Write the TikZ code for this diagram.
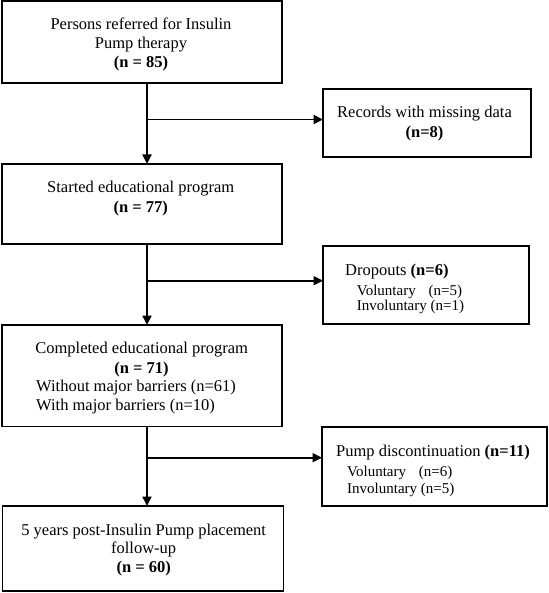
\documentclass[tikz,border=0pt]{standalone}
\usepackage{fontspec}
\setmainfont{Liberation Serif}
\usetikzlibrary{arrows.meta}
\tikzset{
  box/.style={draw=black, line width=1.5pt, inner sep=0pt, outer sep=0pt, fill=white},
  arr/.style={line width=1.9pt, -{Triangle[length=9.5pt,width=9pt]}},
  txt/.style={inner sep=0pt, font=\fontsize{16.5}{19.5}\selectfont},
  sub/.style={inner sep=0pt, font=\fontsize{15}{18}\selectfont},
}
\begin{document}
\begin{tikzpicture}[x=1pt,y=-1pt]
\useasboundingbox (0,0) rectangle (548,593);
% boxes
\node[box, minimum width=280pt, minimum height=82pt] (b1) at (142,42) {};
\node[box, minimum width=280pt, minimum height=80pt] (b2) at (142,204) {};
\node[box, minimum width=280pt, minimum height=101.5pt] (b3) at (142,375.75) {};
\node[box, minimum width=281pt, minimum height=85pt] (b5) at (143,548.5) {};
\node[box, minimum width=208pt, minimum height=68pt] (rec) at (427,123) {};
\node[box, minimum width=206pt, minimum height=78pt] (drop) at (426,285) {};
\node[box, minimum width=225pt, minimum height=79pt] (pump) at (434.5,466.5) {};
% texts
\node[txt, anchor=base] (t1a) at (141,29.3) {Persons referred for Insulin};
\node[txt, anchor=base] (t1b) at (141,48.3) {Pump therapy};
\node[txt, anchor=base] (t1c) at (141,67.7) {\textbf{(n = 85)}};
\node[txt, anchor=base] (t2a) at (140.7,192.3) {Started educational program};
\node[txt, anchor=base] (t2b) at (140.7,212.5) {\textbf{(n = 77)}};
\node[txt, anchor=base] (t3a) at (141.7,353.3) {Completed educational program};
\node[txt, anchor=base] (t3b) at (141.5,373.3) {\textbf{(n = 71)}};
\node[txt, anchor=base west] (t3c) at (36,391.7) {Without major barriers (n=61)};
\node[txt, anchor=base west] (t3d) at (36,410.7) {With major barriers (n=10)};
\node[txt, anchor=base] (t5a) at (143.7,535) {5 years post-Insulin Pump placement};
\node[txt, anchor=base] (t5b) at (143.7,553.3) {follow-up};
\node[txt, anchor=base] (t5c) at (143.7,572.3) {\textbf{(n = 60)}};
\node[txt, anchor=base] (tra) at (424.5,117.3) {Records with missing data};
\node[txt, anchor=base] (trb) at (424.5,137.3) {\textbf{(n=8)}};
\node[txt, anchor=base west] (tda) at (345,275) {Dropouts \textbf{(n=6)}};
\node[sub, anchor=base west] (tdb) at (356.7,295) {Voluntary\hspace{12.9pt}(n=5)};
\node[sub, anchor=base west] (tdc) at (356.7,310) {Involuntary (n=1)};
\node[txt, anchor=base west] (tpa) at (336,456.7) {Pump discontinuation \textbf{(n=11)}};
\node[sub, anchor=base west] (tpb) at (347,476) {Voluntary\hspace{12.9pt}(n=6)};
\node[sub, anchor=base west] (tpc) at (347,493.3) {Involuntary (n=5)};
% junctions
\coordinate (j1) at (147,119.5);
\coordinate (j2) at (147,280.7);
\coordinate (j3) at (147,457.7);
% connectors
\draw[arr] (j1 |- b1.south) -- (j1 |- b2.north);
\draw[arr] (j1) -- (j1 -| rec.west);
\draw[arr] (j2 |- b2.south) -- (j2 |- b3.north);
\draw[arr] (j2) -- (j2 -| drop.west);
\draw[arr] (j3 |- b3.south) -- (j3 |- b5.north);
\draw[arr] (j3) -- (j3 -| pump.west);
\end{tikzpicture}
\end{document}
